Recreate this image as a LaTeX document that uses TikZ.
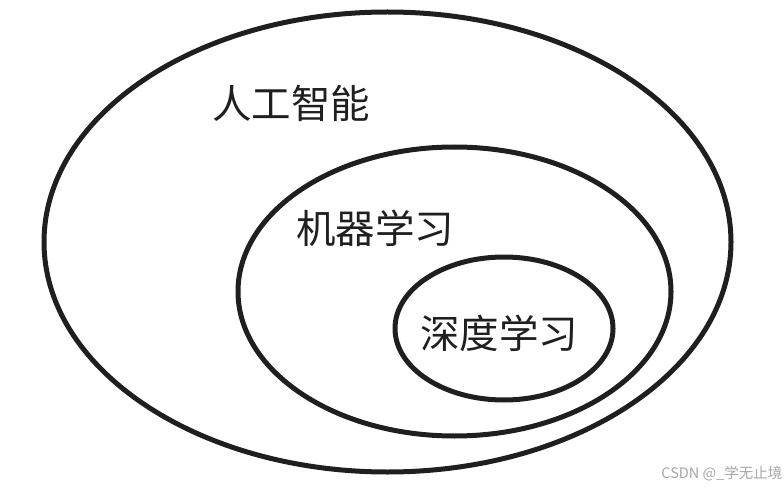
\documentclass[tikz,border=0pt]{standalone}
\usepackage{fontspec}
\setmainfont{Noto Sans CJK SC}
\usepackage{tikz}
\usetikzlibrary{shapes.geometric}

\begin{document}
\begin{tikzpicture}[x=1pt, y=-1pt,
  ring/.style={draw=black!88, line width=5pt, ellipse, inner sep=0pt},
  lab/.style={font=\fontsize{39.5}{39.5}\selectfont, text=black!88},
  wmark/.style={font=\fontsize{14.5}{14.5}\selectfont, text=black!35, anchor=east}]
\useasboundingbox (0,0) rectangle (784,489);
\node[ring, minimum width=687pt, minimum height=460pt] (ai) at (387.5,242) {};
\node[ring, minimum width=433pt, minimum height=289pt] (ml) at (454.5,291.5) {};
\node[ring, minimum width=218pt, minimum height=143pt] (dl) at (504,328.5) {};
\node[lab] (ailab) at (291,103) {人工智能};
\node[lab] (mllab) at (375,228) {机器学习};
\node[lab] (dllab) at (499,333) {深度学习};
\node[wmark] (wm) at (786,474) {CSDN @\_学无止境};
\end{tikzpicture}
\end{document}
